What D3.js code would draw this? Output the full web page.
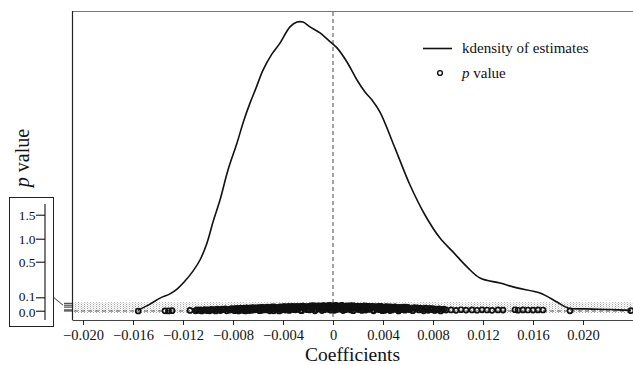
<!DOCTYPE html>
<html>
<head>
<meta charset="utf-8">
<script src="https://cdn.jsdelivr.net/npm/d3@7"></script>
<style>
  html, body { margin: 0; padding: 0; background: #fff; }
  svg, svg text { font-family: "Liberation Serif", "Times New Roman", Times, serif; }
</style>
</head>
<body>
<svg id="chart" width="633" height="365"></svg>
<script>
/* kdensity of coefficient estimates, with p values on a squeezed axis */

const SERIF = '"Liberation Serif", "Times New Roman", Times, serif';

// kernel density curve: coefficient, density
const densityX = [-0.0156, -0.01464, -0.01384, -0.01304, -0.01248, -0.01184, -0.0112, -0.01064,
  -0.01008, -0.0096, -0.00904, -0.0084, -0.00768, -0.00712, -0.00664, -0.00616, -0.0056, -0.00488,
  -0.00424, -0.00344, -0.00288, -0.0024, -0.00184, -0.00104, -0.00024, 0.00032, 0.00112, 0.00192,
  0.00256, 0.00312, 0.00376, 0.00496, 0.00616, 0.00736, 0.00856, 0.0096, 0.01072, 0.01176, 0.01336,
  0.01472, 0.01656, 0.01792, 0.0188, 0.02032, 0.02216, 0.02384];
const densityY = [0.3, 2.3, 4.3, 5.7, 7.3, 10.0, 13.3, 17.0,
  22.7, 29.7, 37.0, 47.0, 56.0, 63.7, 69.3, 74.3, 80.3, 85.7,
  89.3, 94.7, 96.3, 96.3, 94.7, 92.7, 89.8, 87.7, 83.0, 77.0,
  73.0, 70.3, 66.3, 54.3, 42.0, 32.0, 24.3, 19.7, 14.7, 11.0, 9.3,
  7.7, 6.0, 3.0, 1.0, 0.7, 0.5, 0.2];

// estimates: coefficient and p value
const estCoef = [
  -0.01558, -0.01344, -0.01316, -0.01288, -0.01144,
  -0.01100, -0.01088, -0.01075, -0.01062, -0.01050, -0.01038, -0.01025, -0.01012,
  -0.01000, -0.00988, -0.00975, -0.00962, -0.00950, -0.00938, -0.00925, -0.00912,
  -0.00900, -0.00888, -0.00875, -0.00862, -0.00850, -0.00838, -0.00825, -0.00812,
  -0.00800, -0.00788, -0.00775, -0.00762, -0.00750, -0.00738, -0.00725, -0.00712,
  -0.00700, -0.00688, -0.00675, -0.00662, -0.00650, -0.00638, -0.00625, -0.00612,
  -0.00600, -0.00588, -0.00575, -0.00562, -0.00550, -0.00538, -0.00525, -0.00512,
  -0.00500, -0.00488, -0.00475, -0.00462, -0.00450, -0.00438, -0.00425, -0.00412,
  -0.00400, -0.00388, -0.00375, -0.00362, -0.00350, -0.00338, -0.00325, -0.00312,
  -0.00300, -0.00288, -0.00275, -0.00262, -0.00250, -0.00238, -0.00225, -0.00212,
  -0.00200, -0.00188, -0.00175, -0.00162, -0.00150, -0.00138, -0.00125, -0.00112,
  -0.00100, -0.00088, -0.00075, -0.00062, -0.00050, -0.00038, -0.00025, -0.00012,
  0.00000, 0.00012, 0.00025, 0.00038, 0.00050, 0.00062, 0.00075, 0.00088,
  0.00100, 0.00112, 0.00125, 0.00138, 0.00150, 0.00162, 0.00175, 0.00188,
  0.00200, 0.00212, 0.00225, 0.00238, 0.00250, 0.00262, 0.00275, 0.00288,
  0.00300, 0.00312, 0.00325, 0.00338, 0.00350, 0.00362, 0.00375, 0.00388,
  0.00400, 0.00412, 0.00425, 0.00438, 0.00450, 0.00462, 0.00475, 0.00488,
  0.00500, 0.00512, 0.00525, 0.00538, 0.00550, 0.00562, 0.00575, 0.00588,
  0.00600, 0.00612, 0.00625, 0.00638, 0.00650, 0.00662, 0.00675, 0.00688,
  0.00700, 0.00712, 0.00725, 0.00738, 0.00750, 0.00762, 0.00775, 0.00788,
  0.00800, 0.00812, 0.00825, 0.00838, 0.00850, 0.00862, 0.00875, 0.00888,
  0.00904, 0.00944, 0.00984, 0.01024, 0.01064, 0.01112, 0.01152, 0.01192,
  0.01232, 0.01272, 0.01320, 0.01360, 0.01456, 0.01480, 0.01520, 0.01560,
  0.01600, 0.01640, 0.01680, 0.01896, 0.02384,
  -0.00794, -0.00781, -0.00769, -0.00756, -0.00744, -0.00731, -0.00719, -0.00706,
  -0.00694, -0.00681, -0.00669, -0.00656, -0.00644, -0.00631, -0.00619, -0.00606,
  -0.00594, -0.00581, -0.00569, -0.00556, -0.00544, -0.00531, -0.00519, -0.00506,
  -0.00494, -0.00481, -0.00469, -0.00456, -0.00444, -0.00431, -0.00419, -0.00406,
  -0.00394, -0.00381, -0.00369, -0.00356, -0.00344, -0.00331, -0.00319, -0.00306,
  -0.00294, -0.00281, -0.00269, -0.00256, -0.00244, -0.00231, -0.00219, -0.00206,
  -0.00194, -0.00181, -0.00169, -0.00156, -0.00144, -0.00131, -0.00119, -0.00106,
  -0.00094, -0.00081, -0.00069, -0.00056, -0.00044, -0.00031, -0.00019, -0.00006,
  0.00006, 0.00019, 0.00031, 0.00044, 0.00056, 0.00069, 0.00081, 0.00094,
  0.00106, 0.00119, 0.00131, 0.00144, 0.00156, 0.00169, 0.00181, 0.00194,
  0.00206, 0.00219, 0.00231, 0.00244, 0.00256, 0.00269, 0.00281, 0.00294,
  0.00306, 0.00319, 0.00331, 0.00344, 0.00356, 0.00369, 0.00381, 0.00394,
  0.00406, 0.00419, 0.00431, 0.00444, 0.00456, 0.00469, 0.00481, 0.00494,
  0.00506, 0.00519, 0.00531, 0.00544, 0.00556, 0.00569, 0.00581, 0.00594];
const estP = [
  0.00, 0.02, 0.01, 0.03, 0.05,
  0.02, 0.10, 0.05, 0.12, 0.01, 0.08, 0.14, 0.04,
  0.11, 0.02, 0.17, 0.07, 0.15, 0.01, 0.20, 0.09,
  0.04, 0.22, 0.13, 0.26, 0.02, 0.18, 0.08, 0.28,
  0.15, 0.03, 0.30, 0.21, 0.06, 0.34, 0.12, 0.25,
  0.01, 0.38, 0.18, 0.29, 0.07, 0.42, 0.23, 0.12,
  0.35, 0.03, 0.46, 0.19, 0.28, 0.09, 0.50, 0.38,
  0.14, 0.55, 0.02, 0.32, 0.44, 0.21, 0.58, 0.08,
  0.40, 0.63, 0.17, 0.52, 0.05, 0.30, 0.67, 0.45,
  0.11, 0.72, 0.36, 0.58, 0.03, 0.77, 0.24, 0.49,
  0.66, 0.09, 0.82, 0.38, 0.55, 0.16, 0.85, 0.28,
  0.71, 0.04, 0.90, 0.47, 0.62, 0.19, 0.93, 0.35,
  0.80, 0.06, 0.95, 0.52, 0.68, 0.22, 0.91, 0.40,
  0.12, 0.86, 0.58, 0.31, 0.88, 0.03, 0.70, 0.45,
  0.78, 0.15, 0.62, 0.36, 0.80, 0.08, 0.50, 0.70,
  0.25, 0.68, 0.02, 0.55, 0.41, 0.72, 0.13, 0.60,
  0.33, 0.05, 0.61, 0.20, 0.48, 0.57, 0.10, 0.38,
  0.52, 0.18, 0.01, 0.44, 0.29, 0.50, 0.07, 0.36,
  0.45, 0.14, 0.30, 0.03, 0.42, 0.22, 0.38, 0.09,
  0.34, 0.17, 0.02, 0.36, 0.25, 0.06, 0.31, 0.12,
  0.28, 0.04, 0.20, 0.10, 0.26, 0.01, 0.15, 0.22,
  0.08, 0.10, 0.06, 0.12, 0.08, 0.10, 0.07, 0.11,
  0.09, 0.06, 0.10, 0.08, 0.12, 0.07, 0.10, 0.09,
  0.08, 0.10, 0.09, 0.02, 0.03,
  0.24, 0.09, 0.33, 0.01, 0.19, 0.27, 0.05, 0.36,
  0.14, 0.31, 0.04, 0.40, 0.20, 0.10, 0.33, 0.44,
  0.22, 0.41, 0.06, 0.48, 0.13, 0.37, 0.25, 0.02,
  0.47, 0.26, 0.57, 0.11, 0.37, 0.01, 0.51, 0.29,
  0.60, 0.08, 0.35, 0.69, 0.24, 0.55, 0.14, 0.62,
  0.44, 0.19, 0.66, 0.05, 0.79, 0.31, 0.60, 0.12,
  0.48, 0.75, 0.26, 0.88, 0.02, 0.63, 0.39, 0.80,
  0.30, 0.85, 0.12, 0.68, 0.92, 0.41, 0.07, 0.78,
  0.33, 0.88, 0.15, 0.74, 0.45, 0.97, 0.04, 0.62,
  0.66, 0.24, 0.80, 0.10, 0.52, 0.85, 0.37, 0.18,
  0.42, 0.72, 0.05, 0.58, 0.27, 0.76, 0.16, 0.46,
  0.54, 0.09, 0.65, 0.32, 0.18, 0.48, 0.70, 0.03,
  0.15, 0.50, 0.27, 0.58, 0.04, 0.42, 0.30, 0.55,
  0.39, 0.08, 0.47, 0.24, 0.12, 0.33, 0.49, 0.20];

const xTicks = [-0.020, -0.016, -0.012, -0.008, -0.004, 0, 0.004, 0.008, 0.012, 0.016, 0.020];
const pTicks = [0, 0.1, 0.5, 1.0, 1.5];
const pTickLabels = ['0.0', '0.1', '0.5', '1.0', '1.5'];

const svg = d3.select('#chart').attr('font-family', SERIF);

// Scales
const x = d3.scaleLinear().domain([-0.02088, 0.024]).range([72, 633]);
const yDens = d3.scaleLinear().domain([0, 100]).range([311, 11]);
// p value axis is squeezed into a thin band inside the plot...
const yP = d3.scaleLinear().domain(pTicks).range([311, 309.9, 307.1, 305.2, 303.3]);
// ...and blown up again in the inset on the left
const yInset = d3.scaleLinear().domain(pTicks).range([310.7, 297.3, 261.7, 238.7, 214.7]);

// Stipple pattern for the p value band
const defs = svg.append('defs');
const pat = defs.append('pattern')
  .attr('id', 'stipple')
  .attr('width', 3).attr('height', 2)
  .attr('patternUnits', 'userSpaceOnUse');
pat.append('rect').attr('width', 1).attr('height', 1).attr('fill', '#a6a6a6');
pat.append('rect').attr('x', 1.5).attr('y', 1).attr('width', 1).attr('height', 1).attr('fill', '#cccccc');

svg.append('rect')
  .attr('x', x.range()[0] + 1).attr('y', yP(1.5) - 1)
  .attr('width', x.range()[1] - x.range()[0]).attr('height', yP(0) - yP(1.5) + 3)
  .attr('fill', 'url(#stipple)');

// Frame: top line and left spine
svg.append('line')
  .attr('x1', 72).attr('x2', 633).attr('y1', 11.5).attr('y2', 11.5)
  .attr('stroke', '#777').attr('stroke-width', 1);
svg.append('line')
  .attr('x1', 72.5).attr('x2', 72.5).attr('y1', 11).attr('y2', 320)
  .attr('stroke', '#222').attr('stroke-width', 1.2);

// X axis
const xAxis = svg.append('g')
  .attr('transform', 'translate(0,320)')
  .call(d3.axisBottom(x)
    .tickValues(xTicks)
    .tickSize(5)
    .tickSizeOuter(0)
    .tickFormat(d => d === 0 ? '0' : d3.format('.3f')(d)));
xAxis.attr('font-family', SERIF).attr('font-size', 14.5);
xAxis.select('.domain').attr('stroke', '#444');
xAxis.selectAll('.tick line').attr('stroke', '#222');
xAxis.selectAll('.tick text')
  .attr('fill', '#111')
  .attr('y', 6)
  .attr('dy', '0.97em');

svg.append('text')
  .attr('x', (x.range()[0] + x.range()[1]) / 2)
  .attr('y', 360.5)
  .attr('text-anchor', 'middle')
  .attr('font-size', 19.5)
  .attr('fill', '#111')
  .text('Coefficients');

// Zero reference line
svg.append('line')
  .attr('x1', x(0)).attr('x2', x(0)).attr('y1', 12).attr('y2', 320)
  .attr('stroke', '#333').attr('stroke-width', 0.9)
  .attr('stroke-dasharray', '4,3');

// p = 0 dashed guide along the band
svg.append('line')
  .attr('x1', x.range()[0] + 2).attr('x2', x.range()[1]).attr('y1', yP(0)).attr('y2', yP(0))
  .attr('stroke', '#333').attr('stroke-width', 0.8)
  .attr('stroke-dasharray', '4,3');

// p value points
const pts = estCoef.map((c, i) => ({ coef: c, p: estP[i] }));
svg.append('g')
  .selectAll('circle')
  .data(pts)
  .join('circle')
  .attr('cx', d => x(d.coef))
  .attr('cy', d => yP(d.p))
  .attr('r', 2.5)
  .attr('fill', 'none')
  .attr('stroke', '#111')
  .attr('stroke-width', 1.7);

// kdensity curve
const dens = densityX.map((c, i) => ({ coef: c, d: densityY[i] }));
svg.append('path')
  .datum(dens)
  .attr('fill', 'none')
  .attr('stroke', '#111')
  .attr('stroke-width', 1.6)
  .attr('d', d3.line()
    .x(d => x(d.coef))
    .y(d => yDens(d.d))
    .curve(d3.curveCatmullRom.alpha(0.5)));

// Tiny p ticks on the left spine
svg.append('g')
  .selectAll('line')
  .data(pTicks)
  .join('line')
  .attr('x1', 64).attr('x2', 72)
  .attr('y1', d => yP(d)).attr('y2', d => yP(d))
  .attr('stroke', '#111').attr('stroke-width', 0.9);

// Connector from inset to the squeezed axis
svg.append('line')
  .attr('x1', 53.5).attr('y1', yInset(0.1))
  .attr('x2', 63).attr('y2', yP(1.0))
  .attr('stroke', '#222').attr('stroke-width', 0.9);

// Inset with the magnified p value axis
svg.append('rect')
  .attr('x', 9.5).attr('y', 197.5).attr('width', 44).attr('height', 129)
  .attr('fill', 'none').attr('stroke', '#222').attr('stroke-width', 1);

const inset = svg.append('g').attr('transform', 'translate(45,0)');
inset.call(d3.axisLeft(yInset)
  .tickValues(pTicks)
  .tickSize(9)
  .tickSizeOuter(0)
  .tickFormat((d, i) => pTickLabels[i]));
inset.attr('font-family', SERIF).attr('font-size', 13.5);
inset.select('.domain').remove();
inset.append('line')
  .attr('x1', 0).attr('x2', 0).attr('y1', 204).attr('y2', 320)
  .attr('stroke', '#111').attr('stroke-width', 1.1);
inset.selectAll('.tick line').attr('stroke', '#111').attr('stroke-width', 1.1);
inset.selectAll('.tick text')
  .attr('fill', '#111')
  .attr('x', -9.5)
  .attr('dy', d => d === 0.1 ? '0.2em' : d === 0 ? '0.4em' : '0.32em');

// y label
const yLab = svg.append('text')
  .attr('transform', 'translate(29,158) rotate(-90)')
  .attr('text-anchor', 'middle')
  .attr('font-size', 20)
  .attr('fill', '#111');
yLab.append('tspan').attr('font-style', 'italic').text('p');
yLab.append('tspan').text(' value');

// Legend
const legend = svg.append('g').attr('font-size', 15).attr('fill', '#111');
legend.append('line')
  .attr('x1', 423).attr('x2', 452).attr('y1', 48.5).attr('y2', 48.5)
  .attr('stroke', '#111').attr('stroke-width', 1.6);
legend.append('text').attr('x', 462).attr('y', 53).text('kdensity of estimates');
legend.append('circle')
  .attr('cx', 440).attr('cy', 73).attr('r', 2.4)
  .attr('fill', 'none').attr('stroke', '#111').attr('stroke-width', 1.4);
const lt = legend.append('text').attr('x', 462).attr('y', 78);
lt.append('tspan').attr('font-style', 'italic').text('p');
lt.append('tspan').text(' value');
</script>
</body>
</html>
